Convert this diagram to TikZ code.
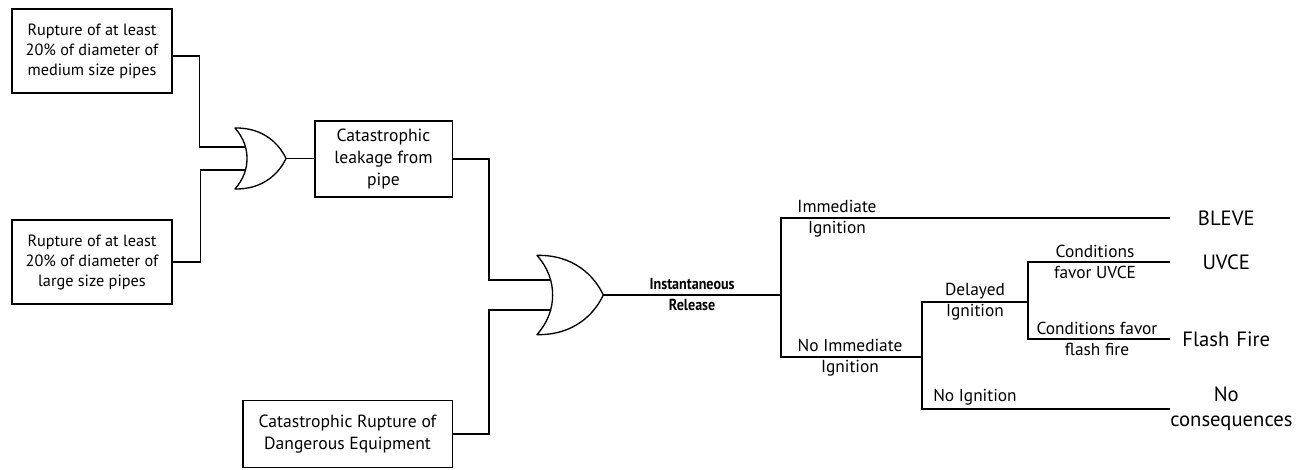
\documentclass[tikz,border=0pt]{standalone}
\usepackage{fontspec}
\setmainfont{PT Sans}
\newfontfamily\narrowsans[FakeStretch=0.88]{PT Sans}
\usetikzlibrary{positioning,calc}
\tikzstyle{wire}=[line width=1pt]
\tikzstyle{basic}=[draw, line width=1pt, align=center, inner sep=0pt]
\tikzstyle{cause}=[basic, minimum width=120pt, minimum height=63pt, font=\fontsize{12.2}{15}\selectfont]
\tikzstyle{event}=[basic, font=\fontsize{13.2}{16.8}\selectfont]
\tikzstyle{lbl}=[align=center, inner sep=0pt, font=\fontsize{13}{15.75}\selectfont]
\tikzstyle{outcome}=[align=center, inner sep=0pt, anchor=west, text width=84pt, font=\fontsize{15.5}{18.75}\selectfont]
\tikzset{
  orgate/.pic={
    \draw[wire, line join=round] (0,-30.5) .. controls (28,-31) and (44,-15) .. (51,0)
      .. controls (44,15) and (28,31) .. (0,30.5)
      .. controls (9,20) and (12,10) .. (12,0)
      .. controls (12,-10) and (9,-20) .. (0,-30.5) -- cycle;
    \coordinate (-in1) at (11,-11.5);
    \coordinate (-in2) at (11,11.5);
    \coordinate (-out) at (51,0);
  }
}
\begin{document}
\begin{tikzpicture}[x=0.75pt,y=-0.75pt]
\useasboundingbox (0,0) rectangle (1311,470);

\node[cause] at (92,51) (med) {Rupture of at least\\20\% of diameter of\\medium size pipes};
\node[cause] at (92,262) (large) {Rupture of at least\\20\% of diameter of\\large size pipes};
\pic (g1) at (235,158.5) {orgate};
\draw[wire] ([yshift=-3.75pt]med.east) -- ++(27,0) |- (g1-in1);
\draw[wire] (large.east) -- ++(28,0) |- (g1-in2);

\node[event, minimum width=103pt, minimum height=57pt] at (383.5,159) (leak) {Catastrophic\\leakage from\\pipe};
\draw[wire] (g1-out) -- (g1-out -| leak.west);

\node[event, minimum width=157pt, minimum height=50pt] at (347.5,434) (rupt) {Catastrophic Rupture of\\Dangerous Equipment};
\pic[scale=1.3] (g2) at (537,295) {orgate};
\draw[wire] (leak.east) -- ++(36,0) |- (g2-in1);
\draw[wire] (rupt.east) -- ++(36,0) |- (g2-in2);

% event tree
\coordinate (j0) at (781,295);
\coordinate (j1) at (922,357);
\coordinate (j2) at (1028,302);
\draw[wire] (g2-out) -- (j0);
\node[lbl, font=\narrowsans\bfseries\fontsize{12}{15.75}\selectfont] at ($(g2-out)!0.5!(j0)$) (rel) {Instantaneous\\Release};

\node[outcome] at (1170,218) (bleve) {BLEVE};
\node[outcome] at (1170,262) (uvce) {UVCE};
\node[outcome] at (1170,339) (flash) {Flash Fire};
\node[outcome] at (1170,409) (nocons) {No\\consequences};

\draw[wire] (j0) |- (bleve.west);
\draw[wire] (j0) |- (j1);
\draw[wire] (j1) |- (j2);
\draw[wire] (j1) |- (nocons.west);
\draw[wire] (j2) |- (uvce.west);
\draw[wire] (j2) |- (flash.west);

\node[lbl] at (837,219) (imm) {Immediate\\Ignition};
\node[lbl] at (850,358) (noimm) {No Immediate\\Ignition};
\node[lbl] at (975,302) (del) {Delayed\\Ignition};
\node[lbl] at (1095,262) (fuvce) {Conditions\\favor UVCE};
\node[lbl] at (1097,339) (fflash) {Conditions favor\\flash fire};
\node[lbl, anchor=south] at (975,405) (noign) {No Ignition};
\end{tikzpicture}
\end{document}
